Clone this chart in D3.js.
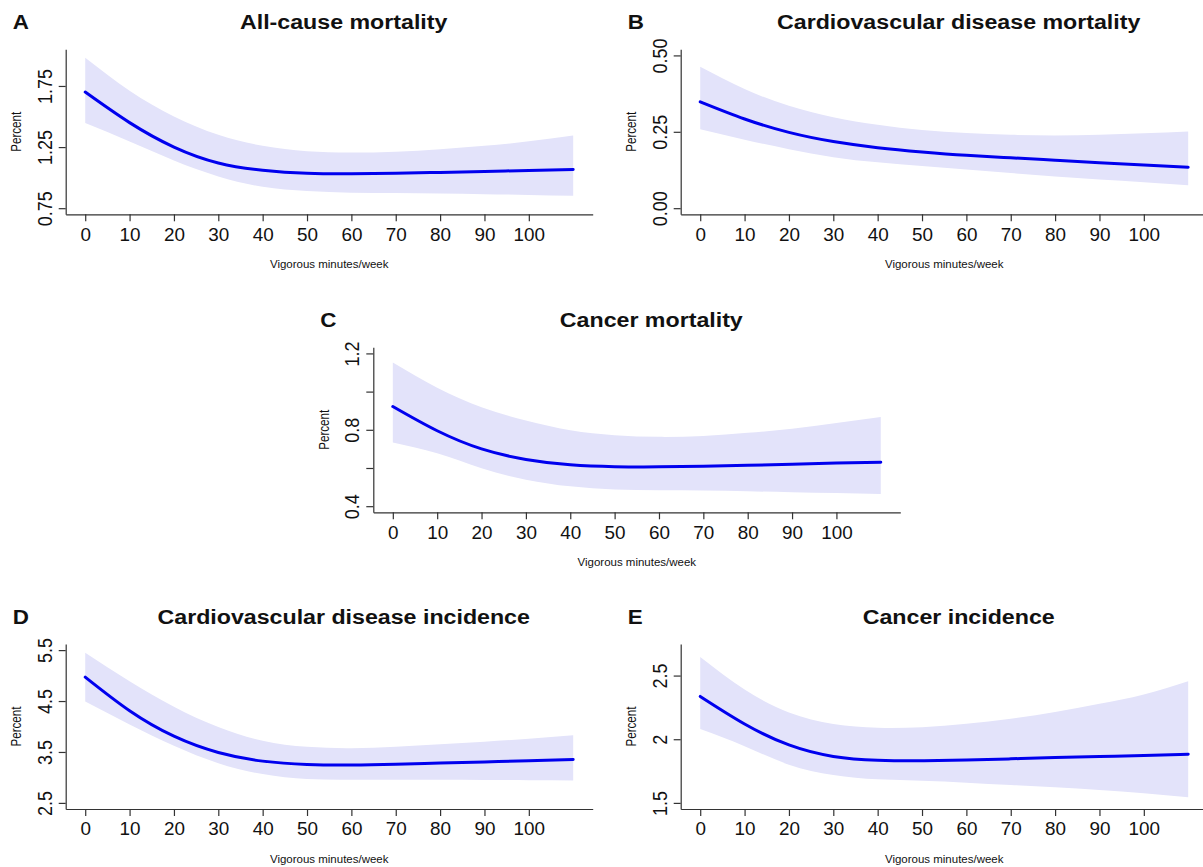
<!DOCTYPE html>
<html>
<head>
<meta charset="utf-8">
<script src="https://cdn.jsdelivr.net/npm/d3@7"></script>
<style>
  html, body { margin: 0; padding: 0; background: #ffffff; }
  svg { display: block; }
  text { font-family: "Liberation Sans", Arial, Helvetica, sans-serif; fill: #111; }
</style>
</head>
<body>
<svg id="fig" width="1203" height="867"></svg>
<script>
// Vigorous minutes per week at which the fitted curves are evaluated
const minutes = [0, 10, 20, 30, 40, 50, 60, 70, 80, 90, 100, 110];
const xTicks = [0, 10, 20, 30, 40, 50, 60, 70, 80, 90, 100];

// A: all-cause mortality (percent)
const allCauseFit   = [1.70, 1.45, 1.25, 1.12, 1.06, 1.035, 1.031, 1.035, 1.043, 1.051, 1.059, 1.067];
const allCauseLower = [1.446, 1.295, 1.14, 1.01, 0.925, 0.89, 0.877, 0.875, 0.870, 0.865, 0.858, 0.852];
const allCauseUpper = [1.98, 1.71, 1.50, 1.35, 1.26, 1.215, 1.205, 1.212, 1.232, 1.26, 1.297, 1.345];
const allCauseTicks = [0.75, 1.25, 1.75];
const allCauseTickLabels = ["0.75", "1.25", "1.75"];

// B: cardiovascular disease mortality (percent)
const cvdMortFit   = [0.348, 0.292, 0.248, 0.218, 0.198, 0.184, 0.173, 0.165, 0.157, 0.149, 0.141, 0.134];
const cvdMortLower = [0.258, 0.224, 0.193, 0.167, 0.150, 0.138, 0.127, 0.115, 0.104, 0.094, 0.085, 0.075];
const cvdMortUpper = [0.463, 0.39, 0.335, 0.298, 0.273, 0.256, 0.246, 0.240, 0.238, 0.240, 0.245, 0.251];
const cvdMortTicks = [0, 0.25, 0.5];
const cvdMortTickLabels = ["0.00", "0.25", "0.50"];

// C: cancer mortality (percent)
const cancerMortFit   = [0.922, 0.795, 0.70, 0.645, 0.617, 0.607, 0.606, 0.609, 0.614, 0.620, 0.626, 0.630];
const cancerMortLower = [0.734, 0.677, 0.599, 0.539, 0.504, 0.487, 0.483, 0.482, 0.478, 0.473, 0.469, 0.464];
const cancerMortUpper = [1.152, 1.02, 0.918, 0.849, 0.798, 0.772, 0.763, 0.768, 0.784, 0.806, 0.836, 0.867];
const cancerMortTicks = [0.4, 0.6, 0.8, 1.0, 1.2];
const cancerMortTickLabels = ["0.4", "", "0.8", "", "1.2"];

// D: cardiovascular disease incidence (percent)
const cvdIncFit   = [4.97, 4.31, 3.81, 3.49, 3.32, 3.255, 3.245, 3.26, 3.283, 3.305, 3.328, 3.352];
const cvdIncLower = [4.49, 4.04, 3.62, 3.279, 3.065, 2.968, 2.955, 2.955, 2.952, 2.950, 2.947, 2.942];
const cvdIncUpper = [5.45, 4.89, 4.39, 3.99, 3.72, 3.60, 3.575, 3.60, 3.65, 3.70, 3.76, 3.83];
const cvdIncTicks = [2.5, 3.5, 4.5, 5.5];
const cvdIncTickLabels = ["2.5", "3.5", "4.5", "5.5"];

// E: cancer incidence (percent)
const cancerIncFit   = [2.336, 2.12, 1.955, 1.865, 1.835, 1.831, 1.836, 1.846, 1.857, 1.865, 1.872, 1.883];
const cancerIncLower = [2.08, 1.945, 1.80, 1.719, 1.685, 1.674, 1.659, 1.641, 1.622, 1.602, 1.576, 1.545];
const cancerIncUpper = [2.645, 2.39, 2.21, 2.12, 2.09, 2.095, 2.122, 2.161, 2.214, 2.279, 2.352, 2.456];
const cancerIncTicks = [1.5, 2, 2.5];
const cancerIncTickLabels = ["1.5", "2", "2.5"];

const xLabel = "Vigorous minutes/week";
const yLabel = "Percent";

// Panel layout: plot-region origin in pixels and y limits
const panels = [
  { tag: "A", title: "All-cause mortality", fit: allCauseFit, lo: allCauseLower, hi: allCauseUpper,
    ylim: [0.75, 2.0], ticks: allCauseTicks, tickLabels: allCauseTickLabels, left: 65.7, top: 49.3 },
  { tag: "B", title: "Cardiovascular disease mortality", fit: cvdMortFit, lo: cvdMortLower, hi: cvdMortUpper,
    ylim: [0, 0.5], ticks: cvdMortTicks, tickLabels: cvdMortTickLabels, left: 680.7, top: 49.3 },
  { tag: "C", title: "Cancer mortality", fit: cancerMortFit, lo: cancerMortLower, hi: cancerMortUpper,
    ylim: [0.4, 1.2], ticks: cancerMortTicks, tickLabels: cancerMortTickLabels, left: 373.3, top: 347.3 },
  { tag: "D", title: "Cardiovascular disease incidence", fit: cvdIncFit, lo: cvdIncLower, hi: cvdIncUpper,
    ylim: [2.5, 5.5], ticks: cvdIncTicks, tickLabels: cvdIncTickLabels, left: 65.7, top: 644 },
  { tag: "E", title: "Cancer incidence", fit: cancerIncFit, lo: cancerIncLower, hi: cancerIncUpper,
    ylim: [1.5, 2.7], ticks: cancerIncTicks, tickLabels: cancerIncTickLabels, left: 680.7, top: 644 }
];

const W = 527, H = 165;
const svg = d3.select("#fig");

// R-style 4% padding of the axis limits
const pad = ([a, b]) => [a - 0.04 * (b - a), b + 0.04 * (b - a)];

panels.forEach(p => {
  const g = svg.append("g").attr("transform", `translate(${p.left},${p.top})`);
  const x = d3.scaleLinear().domain(pad(d3.extent(minutes))).range([0, W]);
  const y = d3.scaleLinear().domain(pad(p.ylim)).range([H, 0]);

  const rows = minutes.map((m, i) => ({ m, fit: p.fit[i], lo: p.lo[i], hi: p.hi[i] }));

  // confidence band
  g.append("path")
    .datum(rows)
    .attr("fill", "#e3e3fa")
    .attr("d", d3.area().curve(d3.curveNatural)
      .x(d => x(d.m)).y0(d => y(d.lo)).y1(d => y(d.hi)));

  // fitted curve
  g.append("path")
    .datum(rows)
    .attr("fill", "none")
    .attr("stroke", "#0000ee")
    .attr("stroke-width", 3)
    .attr("stroke-linecap", "round")
    .attr("d", d3.line().curve(d3.curveNatural).x(d => x(d.m)).y(d => y(d.fit)));

  // x axis
  const gx = g.append("g").attr("transform", `translate(0,${H})`)
    .call(d3.axisBottom(x).tickValues(xTicks).tickSize(7).tickSizeOuter(0));
  gx.selectAll("text")
    .attr("y", 26.5).attr("dy", 0)
    .attr("transform", "scale(1.05,1)")
    .style("font-size", "18px").style("font-family", "Liberation Sans, Arial, sans-serif")
    .attr("fill", "#111");

  // y axis
  const gy = g.append("g")
    .call(d3.axisLeft(y).tickValues(p.ticks).tickSize(7).tickSizeOuter(0)
      .tickFormat((d, i) => p.tickLabels[i]));
  gy.selectAll("text")
    .attr("x", 0).attr("y", 0).attr("dy", 0)
    .attr("text-anchor", "middle")
    .attr("transform", "translate(-14,0) scale(1.15,1) rotate(-90)")
    .style("font-size", "18px").style("font-family", "Liberation Sans, Arial, sans-serif")
    .attr("fill", "#111");

  [gx, gy].forEach(a => {
    a.select(".domain").attr("stroke", "#333").attr("stroke-width", 1.2);
    a.selectAll(".tick line").attr("stroke", "#333").attr("stroke-width", 1.2);
  });

  // axis titles
  g.append("text")
    .attr("transform", `translate(${W / 2},${H + 54}) scale(1.15,1)`)
    .attr("text-anchor", "middle")
    .style("font-size", "10px")
    .text(xLabel);

  g.append("text")
    .attr("transform", `translate(-44.5,${H / 2}) scale(1.2,1) rotate(-90)`)
    .attr("text-anchor", "middle")
    .style("font-size", "11.6px")
    .text(yLabel);

  // panel title and tag
  g.append("text")
    .attr("transform", `translate(${W / 2 + 14.5},${-20.5}) scale(1.16,1)`)
    .attr("text-anchor", "middle")
    .style("font-size", "20px").style("font-weight", "bold")
    .text(p.title);

  g.append("text")
    .attr("transform", `translate(-53,${-20.5}) scale(1.12,1)`)
    .attr("text-anchor", "start")
    .style("font-size", "20px").style("font-weight", "bold")
    .text(p.tag);
});
</script>
</body>
</html>
